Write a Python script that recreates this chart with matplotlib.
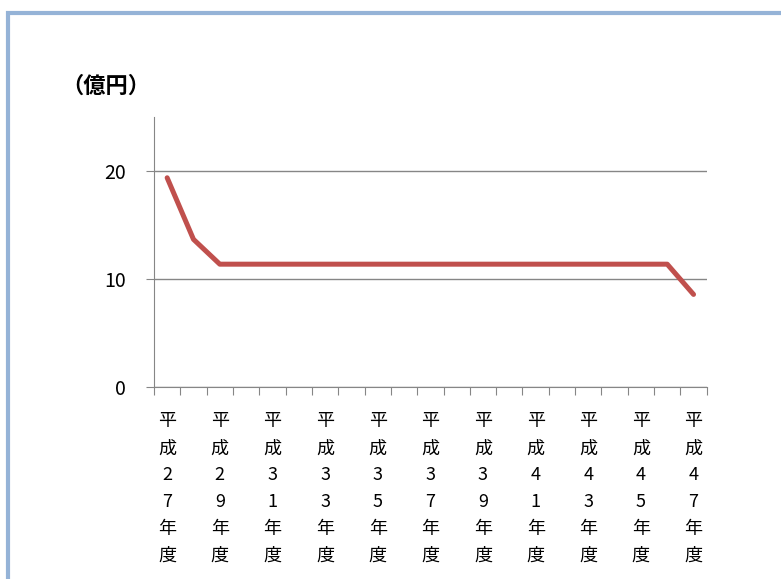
import matplotlib.pyplot as plt
from matplotlib.patches import Rectangle

plt.rcParams['font.family'] = ['Noto Sans CJK JP', 'DejaVu Sans']

# 年度（平成27〜47年度）と金額（億円）
years = list(range(27, 48))
values = [19.4, 13.7, 11.4, 11.4, 11.4, 11.4, 11.4, 11.4, 11.4, 11.4, 11.4,
          11.4, 11.4, 11.4, 11.4, 11.4, 11.4, 11.4, 11.4, 11.4, 8.6]
yticks = [0, 10, 20]
unit_label = '（億円）'


def year_label(y):
    s = '平成' + str(y) + '年度'
    return '\n'.join(s)


fig = plt.figure(figsize=(7.81, 5.79), dpi=100)

# 枠線（左と上のみ見える）
fig.patches.append(Rectangle((8 / 781, -0.1), 1.2, 1.1 - 13 / 579,
                             transform=fig.transFigure, fill=False,
                             edgecolor='#95B3D7', linewidth=3))

ax = fig.add_axes([154 / 781, 191.7 / 579, 552.7 / 781, 270 / 579])

xs = list(range(len(years)))
ax.plot(xs, values, color='#C0504D', linewidth=3.6, solid_capstyle='round')

ax.set_xlim(-0.5, len(years) - 0.5)
ax.set_ylim(0, 25)

ax.set_yticks(yticks)
ax.set_yticklabels([str(t) for t in yticks], fontsize=14)
ax.yaxis.grid(True, color='#868686', linewidth=1)
ax.set_axisbelow(True)

# 区切りの目盛りと隔年のラベル
ax.set_xticks([i - 0.5 for i in range(len(years) + 1)])
ax.set_xticklabels([])
ax.set_xticks(xs[::2], minor=True)
ax.set_xticklabels([year_label(y) for y in years[::2]], minor=True,
                   fontsize=13, linespacing=1.64, va='top')
ax.tick_params(axis='x', which='minor', length=0, pad=18)
ax.tick_params(axis='x', which='major', length=6, color='#868686', direction='out')
ax.tick_params(axis='y', length=6, color='#868686', pad=14)

for side in ['top', 'right']:
    ax.spines[side].set_visible(False)
for side in ['left', 'bottom']:
    ax.spines[side].set_color('#868686')

fig.text(61 / 781, 1 - 86 / 579, unit_label, fontsize=16, fontweight='bold',
         va='center', ha='left')

fig.savefig('out.png', dpi=100)
